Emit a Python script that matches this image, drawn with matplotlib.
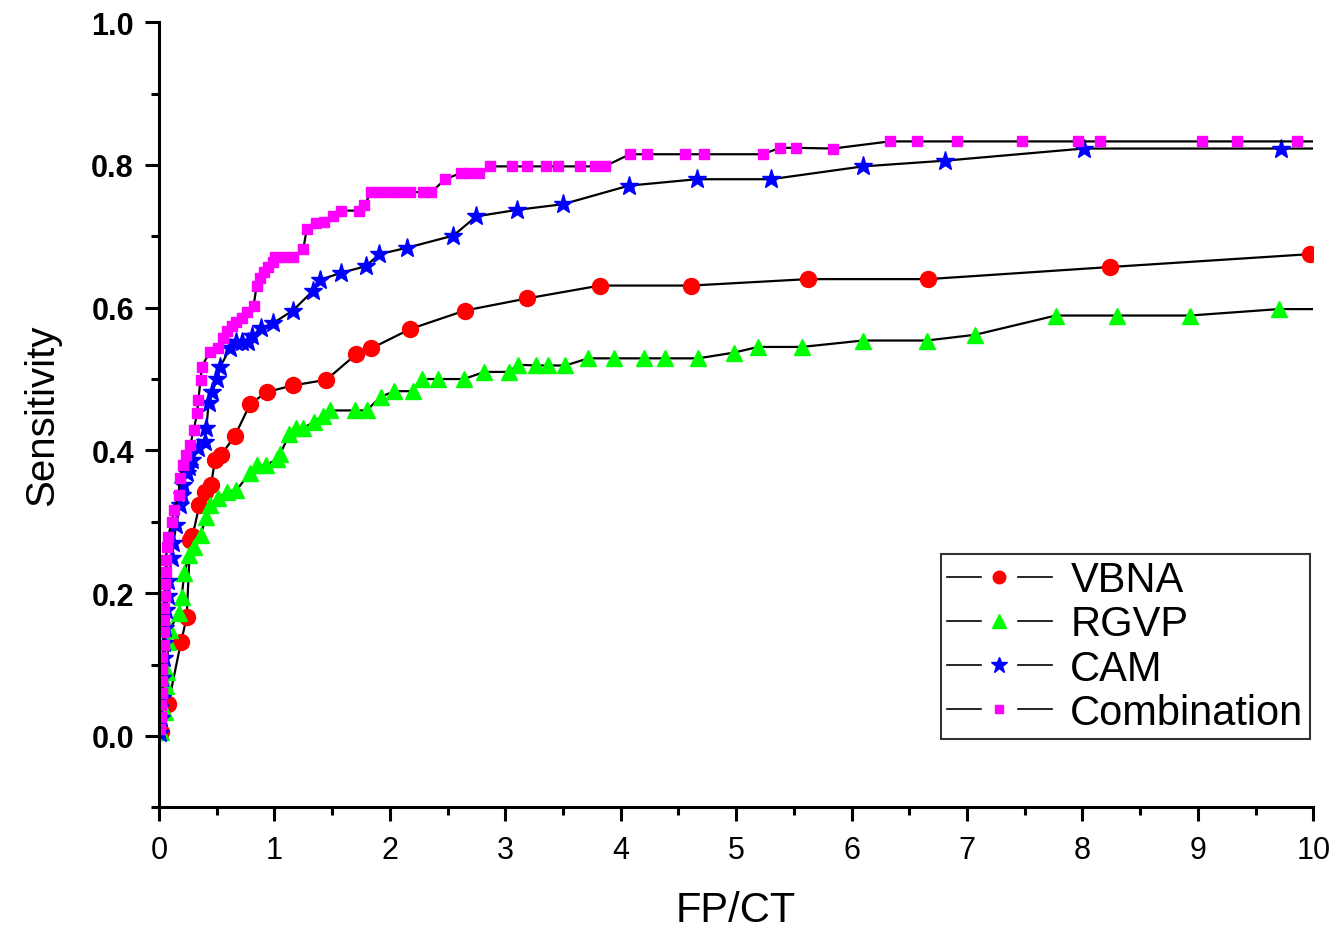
import numpy as np
import matplotlib.pyplot as plt
from matplotlib.lines import Line2D
from matplotlib.legend_handler import HandlerTuple
from matplotlib.ticker import MultipleLocator, FormatStrFormatter

# Values (FP/CT vs Sensitivity)
vbna_x = [0.02, 0.08, 0.19, 0.24, 0.27, 0.29, 0.35, 0.40, 0.45, 0.485, 0.54,
          0.656, 0.79, 0.936, 1.16, 1.45, 1.71, 1.84, 2.175, 2.65, 3.19, 3.82,
          4.61, 5.62, 6.66, 8.24, 9.97]
vbna_y = [0.006, 0.044, 0.131, 0.166, 0.274, 0.28, 0.323, 0.342, 0.351, 0.386, 0.394,
          0.42, 0.465, 0.482, 0.491, 0.499, 0.535, 0.543, 0.57, 0.596, 0.613, 0.631,
          0.631, 0.640, 0.640, 0.657, 0.675]

rgvp_x = [0.02, 0.05, 0.06, 0.07, 0.08, 0.095, 0.17, 0.196, 0.22, 0.26, 0.30,
          0.36, 0.41, 0.44, 0.51, 0.59, 0.67, 0.79, 0.85, 0.93, 1.02, 1.05,
          1.13, 1.19, 1.25, 1.34, 1.42, 1.48, 1.70, 1.80, 1.92, 2.04, 2.20,
          2.28, 2.42, 2.64, 2.82, 3.03, 3.11, 3.27, 3.37, 3.52, 3.72, 3.94,
          4.20, 4.38, 4.67, 4.98, 5.19, 5.57, 6.10, 6.65, 7.07, 7.77, 8.30,
          8.93, 9.70, 10.0]
rgvp_y = [0.006, 0.034, 0.07, 0.09, 0.132, 0.149, 0.172, 0.195, 0.228, 0.254, 0.265,
          0.282, 0.307, 0.324, 0.333, 0.342, 0.344, 0.369, 0.379, 0.379, 0.388, 0.395,
          0.423, 0.431, 0.431, 0.44, 0.448, 0.456, 0.456, 0.456, 0.475, 0.483, 0.483,
          0.50, 0.50, 0.50, 0.51, 0.51, 0.52, 0.519, 0.519, 0.519, 0.529, 0.529,
          0.529, 0.529, 0.529, 0.537, 0.545, 0.545, 0.554, 0.554, 0.562, 0.589, 0.589,
          0.589, 0.598, 0.598]

cam_x = [0.01, 0.02, 0.03, 0.03, 0.04, 0.04, 0.05, 0.06, 0.08, 0.08, 0.11,
         0.124, 0.15, 0.18, 0.196, 0.21, 0.24, 0.26, 0.29, 0.34, 0.40, 0.41,
         0.43, 0.46, 0.505, 0.53, 0.615, 0.67, 0.72, 0.77, 0.81, 0.88, 0.985,
         1.16, 1.33, 1.395, 1.58, 1.79, 1.91, 2.15, 2.55, 2.75, 3.10, 3.50,
         4.07, 4.66, 5.30, 6.10, 6.81, 8.01, 9.72, 10.0]
cam_y = [0.004, 0.025, 0.053, 0.081, 0.109, 0.13, 0.151, 0.176, 0.196, 0.217, 0.249,
         0.27, 0.296, 0.323, 0.337, 0.351, 0.368, 0.377, 0.386, 0.403, 0.412, 0.431,
         0.466, 0.482, 0.50, 0.517, 0.543, 0.552, 0.552, 0.552, 0.56, 0.571, 0.578,
         0.596, 0.623, 0.639, 0.649, 0.658, 0.675, 0.684, 0.701, 0.728, 0.737, 0.745,
         0.771, 0.780, 0.780, 0.798, 0.806, 0.823, 0.823, 0.823]

comb_x = [0.01, 0.02, 0.02, 0.03, 0.03, 0.03, 0.03, 0.04, 0.04, 0.04, 0.04,
          0.05, 0.05, 0.06, 0.06, 0.07, 0.08, 0.11, 0.13, 0.17, 0.18, 0.205,
          0.234, 0.27, 0.30, 0.33, 0.34, 0.36, 0.37, 0.44, 0.51, 0.557, 0.587,
          0.63, 0.67, 0.717, 0.765, 0.82, 0.846, 0.875, 0.91, 0.947, 0.985, 1.005,
          1.08, 1.16, 1.25, 1.28, 1.36, 1.43, 1.51, 1.575, 1.73, 1.78, 1.84,
          1.91, 2.0, 2.08, 2.175, 2.285, 2.36, 2.48, 2.62, 2.69, 2.77, 2.87,
          3.06, 3.19, 3.35, 3.46, 3.65, 3.78, 3.86, 4.08, 4.23, 4.56, 4.72,
          5.23, 5.38, 5.52, 5.84, 6.33, 6.57, 6.91, 7.48, 7.96, 8.15, 9.04,
          9.34, 9.86, 10.0]
comb_y = [0.009, 0.026, 0.043, 0.06, 0.077, 0.094, 0.111, 0.128, 0.145, 0.162, 0.179,
          0.196, 0.213, 0.23, 0.247, 0.264, 0.279, 0.30, 0.317, 0.338, 0.361, 0.379,
          0.393, 0.407, 0.428, 0.452, 0.47, 0.498, 0.517, 0.538, 0.544, 0.557, 0.568,
          0.575, 0.58, 0.585, 0.594, 0.603, 0.631, 0.641, 0.65, 0.657, 0.664, 0.671,
          0.671, 0.671, 0.682, 0.71, 0.718, 0.72, 0.728, 0.736, 0.736, 0.744, 0.762,
          0.762, 0.762, 0.762, 0.762, 0.762, 0.762, 0.78, 0.789, 0.789, 0.789, 0.798,
          0.798, 0.798, 0.798, 0.798, 0.798, 0.798, 0.798, 0.815, 0.815, 0.815, 0.815,
          0.815, 0.824, 0.824, 0.823, 0.833, 0.833, 0.833, 0.833, 0.833, 0.833, 0.833,
          0.833, 0.833, 0.833]

plt.rcParams['font.family'] = ['Liberation Sans', 'DejaVu Sans']

fig = plt.figure(figsize=(13.36, 9.29), dpi=100)
ax = fig.add_axes([0.119, 0.130, 0.864, 0.845])

# (label, x, y, marker, color, plot size, legend size, marker on last point?)
series = [
    ("VBNA", vbna_x, vbna_y, 'o', '#ff0000', 11.5, 9, True),
    ("RGVP", rgvp_x, rgvp_y, '^', '#00ff00', 11.5, 10, False),
    ("CAM", cam_x, cam_y, '*', '#0000ff', 14, 12, False),
    ("Combination", comb_x, comb_y, 's', '#ff00ff', 7, 6, False),
]

handles = []
labels = []
for label, xs, ys, marker, color, size, leg_size, mark_last in series:
    n = len(xs)
    every = list(range(n)) if mark_last else list(range(n - 1))
    ax.plot(xs, ys, color='black', linewidth=1.6, marker=marker,
            markersize=size, markerfacecolor=color, markeredgecolor=color,
            markevery=every)

    # Legend handle: black line broken around the marker
    line = Line2D([], [], color='black', linewidth=1.2)
    mask = Line2D([], [], linestyle='none', marker='s', markersize=25,
                  markerfacecolor='white', markeredgecolor='white')
    mark = Line2D([], [], linestyle='none', marker=marker, markersize=leg_size,
                  markerfacecolor=color, markeredgecolor=color)
    handles.append((line, mask, mark))
    labels.append(label)

ax.set_xlim(0, 10)
ax.set_ylim(-0.1, 1.0)

# Axis styling: only left and bottom spines, outward ticks
for side in ['top', 'right']:
    ax.spines[side].set_visible(False)
for side in ['left', 'bottom']:
    ax.spines[side].set_linewidth(2.2)

ax.xaxis.set_major_locator(MultipleLocator(1))
ax.xaxis.set_minor_locator(MultipleLocator(0.5))
ax.yaxis.set_major_locator(MultipleLocator(0.2))
ax.yaxis.set_minor_locator(MultipleLocator(0.1))
ax.yaxis.set_major_formatter(FormatStrFormatter('%.1f'))
ax.tick_params(which='major', direction='out', length=10, width=2.2, labelsize=22)
ax.tick_params(which='minor', direction='out', length=6, width=2.2)
ax.tick_params(axis='x', pad=10)
ax.tick_params(axis='y', pad=8)
for t in ax.get_yticklabels():
    t.set_fontweight('bold')

ax.set_xlabel("FP/CT", fontsize=30, labelpad=18)
ax.set_ylabel("Sensitivity", fontsize=29, labelpad=22)

leg = ax.legend(handles, labels, loc='lower right', bbox_to_anchor=(0.997, 0.087),
                handler_map={tuple: HandlerTuple(ndivide=1, pad=0)},
                fontsize=30, frameon=True, fancybox=False, edgecolor='black',
                handlelength=2.5, handletextpad=0.45, borderpad=0.15,
                borderaxespad=0, labelspacing=0.1)
leg.get_frame().set_linewidth(1.5)

plt.savefig('out.png', dpi=100)
plt.close()
